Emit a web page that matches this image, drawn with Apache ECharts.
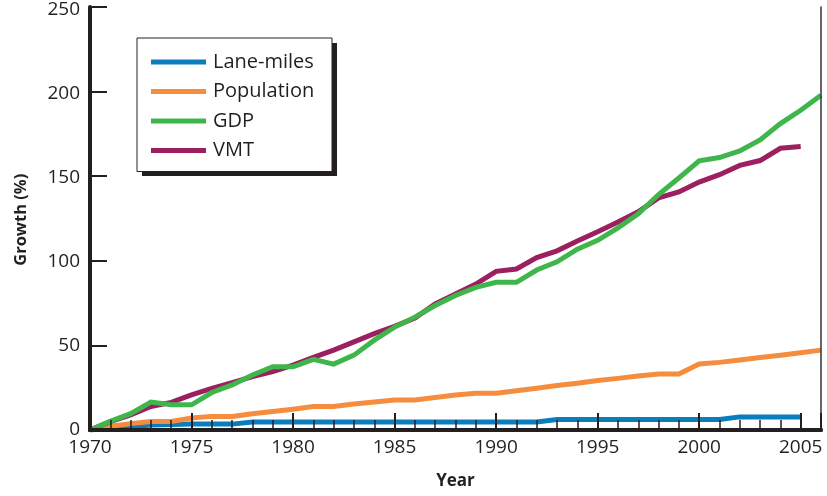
<!DOCTYPE html>
<html>
<head>
<meta charset="utf-8">
<script src="https://cdn.jsdelivr.net/npm/echarts@6/dist/echarts.min.js"></script>
<style>
html,body{margin:0;padding:0;background:#fff;}
#wrap{position:relative;width:827px;height:496px;background:#fff;}
.layer{position:absolute;left:0;top:0;width:827px;height:496px;}
#legendChart{position:absolute;left:130px;top:30px;width:220px;height:160px;}
</style>
</head>
<body>
<div id="wrap">
  <div id="chart" class="layer"></div>
  <div id="frameChart" class="layer"></div>
  <div id="tickChart" class="layer"></div>
  <div id="legendChart"></div>
</div>
<script>
var years = [1970,1971,1972,1973,1974,1975,1976,1977,1978,1979,1980,1981,1982,1983,1984,1985,1986,1987,1988,1989,1990,1991,1992,1993,1994,1995,1996,1997,1998,1999,2000,2001,2002,2003,2004,2005,2006];
var laneMiles = [0,1,2,3,3.2,3.5,3.5,3.5,4.8,4.8,4.8,4.8,4.8,4.8,4.8,4.8,4.8,4.8,4.8,4.8,4.8,4.8,4.8,6.2,6.2,6.2,6.2,6.2,6.2,6.2,6.2,6.2,7.8,7.8,7.8,7.8,null];
var population = [0,2.2,3.8,5.1,5.1,7.1,8.1,8.1,9.7,11,12.4,14,14,15.4,16.6,17.9,17.9,19.3,20.8,21.9,21.9,23.3,24.8,26.4,27.8,29.4,30.7,32.1,33.3,33.3,39.2,40.2,41.6,43.1,44.5,45.9,47.5];
var gdp = [0,5.1,9.7,16.6,15,15,22.3,26.8,32.7,37.6,37.6,42,39.2,44.5,53.4,61.2,67.1,74,80,84.8,87.8,87.8,95.1,100,107.5,112.8,120.2,128.5,140,149.8,160,162,165.9,172.4,182.2,190.1,199];
var vmt = [0,5,9,14,16.4,20.9,24.8,28.2,31.7,34.7,38.6,43.2,47.5,52.4,57.3,61.6,66.5,75,80.8,86.8,94.3,95.7,102.5,106.5,112.4,117.9,123.6,129.7,138,141.5,147.4,151.8,157.3,160.2,167.5,168.5,null];
var seriesNames = ['Lane-miles','Population','GDP','VMT'];
var seriesColors = ['#0a7dbd','#f68d3e','#3fb64b','#9c1f60'];
var xMin = 1970, xMax = 2006, xStep = 5;
var yMin = 0, yMax = 250, yStep = 50;

function pairs(arr){
  var out = [];
  for (var i = 0; i < years.length; i++) {
    if (arr[i] !== null) out.push([years[i], arr[i]]);
  }
  return out;
}
var dataSets = [laneMiles, population, gdp, vmt];
var zOrder = [2,3,5,4];
var font = "'Open Sans', 'Noto Sans', sans-serif";
var gridBox = {left: 90, right: 6, top: 7, bottom: 66};

// Main chart: lines, labels, axis titles, thick axis lines
var chart = echarts.init(document.getElementById('chart'));
chart.setOption({
  animation: false,
  grid: gridBox,
  xAxis: {
    type: 'value', min: xMin, max: xMax, interval: xStep,
    name: 'Year', nameLocation: 'middle', nameGap: 43,
    nameTextStyle: {fontFamily: font, fontSize: 17, fontWeight: 'bold', color: '#231f20'},
    axisLine: {show: true, lineStyle: {color: '#231f20', width: 4}},
    axisTick: {show: false},
    splitLine: {show: false},
    axisLabel: {margin: 8, fontFamily: font, fontSize: 19, color: '#231f20', showMaxLabel: false,
      formatter: function(v){ return String(v); }}
  },
  yAxis: {
    type: 'value', min: yMin, max: yMax, interval: yStep,
    name: 'Growth (%)', nameLocation: 'middle', nameGap: 60,
    nameTextStyle: {fontFamily: font, fontSize: 16.5, fontWeight: 'bold', color: '#231f20'},
    axisLine: {show: true, lineStyle: {color: '#231f20', width: 4}},
    axisTick: {show: false},
    splitLine: {show: false},
    axisLabel: {margin: 10, fontFamily: font, fontSize: 19, color: '#231f20'}
  },
  series: dataSets.map(function(d, i){
    return {
      type: 'line', data: pairs(d),
      showSymbol: false, symbol: 'none', z: zOrder[i],
      lineStyle: {color: seriesColors[i], width: 5, join: 'miter'},
      itemStyle: {color: seriesColors[i]}
    };
  })
});

// Thin frame on the top and right
var frameChart = echarts.init(document.getElementById('frameChart'));
frameChart.setOption({
  animation: false,
  grid: gridBox,
  xAxis: {type: 'value', position: 'top', min: xMin, max: xMax,
    axisLine: {show: true, lineStyle: {color: '#333', width: 1.5}},
    axisTick: {show: false}, axisLabel: {show: false}, splitLine: {show: false}},
  yAxis: {type: 'value', position: 'right', min: yMin, max: yMax,
    axisLine: {show: true, lineStyle: {color: '#333', width: 1.5}},
    axisTick: {show: false}, axisLabel: {show: false}, splitLine: {show: false}}
});

// Inside tick marks
var tickChart = echarts.init(document.getElementById('tickChart'));
tickChart.setOption({
  animation: false,
  grid: gridBox,
  xAxis: {type: 'value', min: xMin, max: xMax, interval: xStep,
    axisLine: {show: true, lineStyle: {color: '#231f20', width: 4}},
    axisTick: {show: true, inside: true, length: 17, lineStyle: {color: '#231f20', width: 2}},
    minorTick: {show: true, splitNumber: 5, length: 10, lineStyle: {color: '#231f20', width: 1.5}},
    axisLabel: {show: false}, splitLine: {show: false}},
  yAxis: {type: 'value', min: yMin, max: yMax, interval: yStep,
    axisLine: {show: true, lineStyle: {color: '#231f20', width: 4}},
    axisTick: {show: true, inside: true, length: 17, lineStyle: {color: '#231f20', width: 2}},
    axisLabel: {show: false}, splitLine: {show: false}}
});

// Legend with drop shadow
var legendChart = echarts.init(document.getElementById('legendChart'));
legendChart.setOption({
  animation: false,
  color: seriesColors,
  grid: {show: false, left: 0, top: 0, width: 1, height: 1},
  xAxis: {type: 'value', show: false},
  yAxis: {type: 'value', show: false},
  graphic: [{
    type: 'rect', z: 1, silent: true,
    shape: {x: 12, y: 13, width: 195, height: 133},
    style: {fill: '#231f20'}
  }],
  legend: {
    orient: 'vertical', left: 7, top: 8, z: 10,
    data: seriesNames, selectedMode: false,
    icon: 'rect', itemWidth: 55, itemHeight: 5, itemGap: 9.5,
    padding: [14, 14, 11, 14],
    backgroundColor: '#fff', borderColor: '#222', borderWidth: 1,
    textStyle: {fontFamily: font, fontSize: 20, color: '#231f20', lineHeight: 20, width: 105, padding: [0,0,0,2]}
  },
  series: seriesNames.map(function(n, i){
    return {name: n, type: 'line', data: [], showSymbol: false,
      lineStyle: {color: seriesColors[i], width: 5}, itemStyle: {color: seriesColors[i]}};
  })
});
</script>
</body>
</html>
